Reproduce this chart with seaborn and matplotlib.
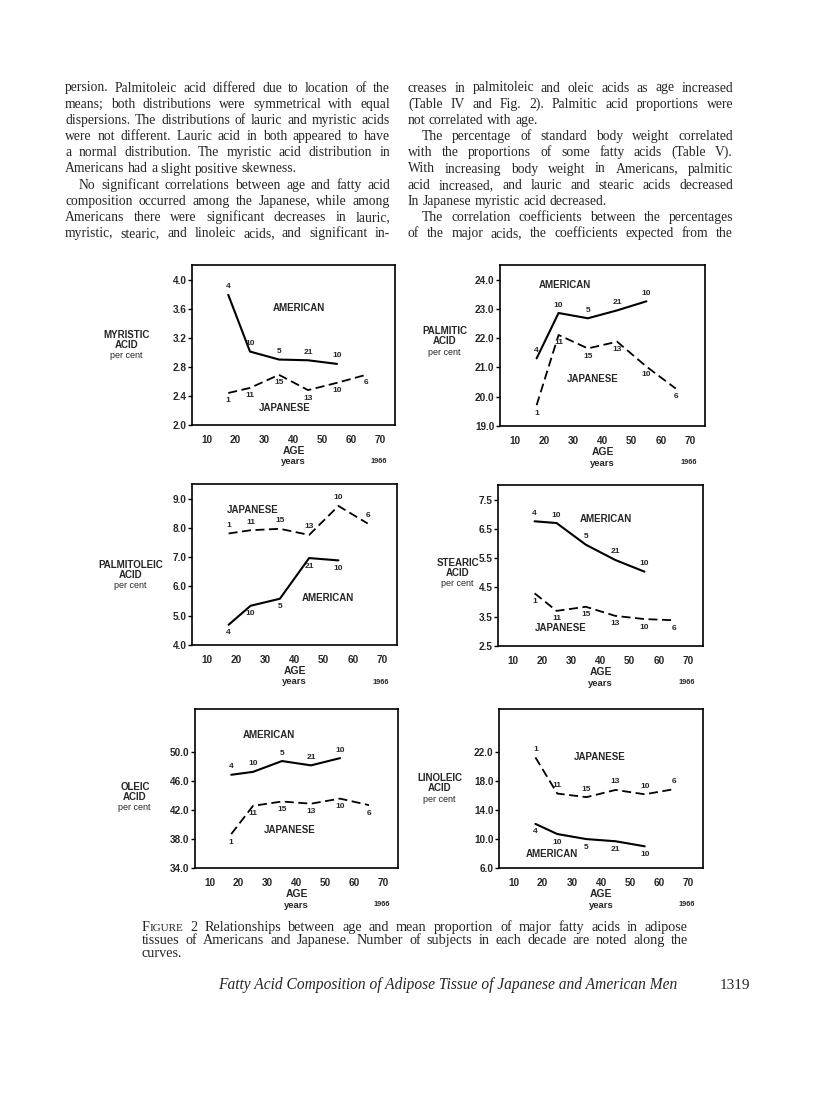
import numpy as np
import pandas as pd
import matplotlib
matplotlib.use("Agg")
import matplotlib.pyplot as plt
import seaborn as sns
from matplotlib.font_manager import FontProperties

sns.set_theme(style="white")
plt.rcParams["font.family"] = ["Liberation Sans", "DejaVu Sans"]

# ---------------- data ----------------
ages_am = [17.5, 25, 35, 45, 55]
ages_jp = [17.5, 25, 35, 45, 55, 65]
n_am = [4, 10, 5, 21, 10]
n_jp = [1, 11, 15, 13, 10, 6]
x_ticks = [10, 20, 30, 40, 50, 60, 70]

myristic_am = [3.79, 3.01, 2.90, 2.89, 2.84]
myristic_jp = [2.44, 2.51, 2.69, 2.48, 2.58, 2.69]
palmitic_am = [21.31, 22.86, 22.68, 22.95, 23.26]
palmitic_jp = [19.71, 22.11, 21.65, 21.88, 21.03, 20.28]
palmitoleic_am = [4.69, 5.34, 5.58, 6.97, 6.89]
palmitoleic_jp = [7.81, 7.92, 7.97, 7.76, 8.75, 8.15]
stearic_am = [6.76, 6.70, 5.96, 5.44, 5.04]
stearic_jp = [4.30, 3.70, 3.84, 3.53, 3.42, 3.38]
oleic_am = [46.9, 47.3, 48.8, 48.2, 49.2]
oleic_jp = [38.7, 42.6, 43.2, 42.9, 43.6, 42.7]
linoleic_am = [12.1, 10.7, 10.0, 9.7, 9.0]
linoleic_jp = [21.3, 16.3, 15.8, 16.8, 16.2, 16.9]

myristic_ticks = [2.0, 2.4, 2.8, 3.2, 3.6, 4.0]
palmitic_ticks = [19.0, 20.0, 21.0, 22.0, 23.0, 24.0]
palmitoleic_ticks = [4.0, 5.0, 6.0, 7.0, 8.0, 9.0]
stearic_ticks = [2.5, 3.5, 4.5, 5.5, 6.5, 7.5]
oleic_ticks = [34.0, 38.0, 42.0, 46.0, 50.0]
linoleic_ticks = [6.0, 10.0, 14.0, 18.0, 22.0]

left_col = [
    "persion. Palmitoleic acid differed due to location of the",
    "means; both distributions were symmetrical with equal",
    "dispersions. The distributions of lauric and myristic acids",
    "were not different. Lauric acid in both appeared to have",
    "a normal distribution. The myristic acid distribution in",
    "Americans had a slight positive skewness.",
    "No significant correlations between age and fatty acid",
    "composition occurred among the Japanese, while among",
    "Americans there were significant decreases in lauric,",
    "myristic, stearic, and linoleic acids, and significant in-",
]
right_col = [
    "creases in palmitoleic and oleic acids as age increased",
    "(Table IV and Fig. 2). Palmitic acid proportions were",
    "not correlated with age.",
    "The percentage of standard body weight correlated",
    "with the proportions of some fatty acids (Table V).",
    "With increasing body weight in Americans, palmitic",
    "acid increased, and lauric and stearic acids decreased",
    "In Japanese myristic acid decreased.",
    "The correlation coefficients between the percentages",
    "of the major acids, the coefficients expected from the",
]
caption = [
    "FIGURE 2  Relationships between age and mean proportion of major fatty acids in adipose",
    "tissues of Americans and Japanese. Number of subjects in each decade are noted along the",
    "curves.",
]
footer = "Fatty Acid Composition of Adipose Tissue of Japanese and American Men"
page_no = "1319"

# ---------------- figure ----------------
W, H = 816, 1100
fig = plt.figure(figsize=(8.16, 11.0), dpi=100)
fig.patch.set_facecolor("white")
renderer = fig.canvas.get_renderer()


def tw(s, fp):
    return renderer.get_text_width_height_descent(s, fp, ismath=False)[0]


def fx(x):
    return x / W


def fy(y):
    return 1 - y / H


def draw_block(lines, x0, x1, y0, dy, fp, justify, indents, indent=14, smallcaps=()):
    sc_fp = fp.copy()
    sc_fp.set_size(fp.get_size() * 0.78)
    space = tw("a a", fp) - tw("aa", fp)
    for i, s in enumerate(lines):
        y = y0 + i * dy
        xs = x0 + (indent if indents[i] else 0)
        words = s.split()
        ws = []
        for w in words:
            if w in smallcaps:
                ws.append(tw(w[0], fp) + tw(w[1:], sc_fp))
            else:
                ws.append(tw(w, fp))
        if justify[i] and len(words) > 1:
            gap = (x1 - xs - sum(ws)) / (len(words) - 1)
        else:
            gap = space
        x = xs
        for w, ww in zip(words, ws):
            if w in smallcaps:
                fig.text(fx(x), fy(y), w[0], fontproperties=fp, ha="left", va="baseline")
                fig.text(fx(x + tw(w[0], fp)), fy(y), w[1:], fontproperties=sc_fp,
                         ha="left", va="baseline")
            else:
                fig.text(fx(x), fy(y), w, fontproperties=fp, ha="left", va="baseline")
            x += ww + gap


# body text
body_fp = FontProperties(family="Liberation Serif", size=10)
col_w = 325
nat = max(tw(s, body_fp) for s in left_col + right_col)
body_fp.set_size(10 * col_w * 0.965 / nat)
just_l = [True, True, True, True, True, False, True, True, True, True]
ind_l = [False] * 6 + [True] + [False] * 3
just_r = [True, True, False, True, True, True, True, False, True, True]
ind_r = [False, False, False, True, False, False, False, False, True, False]
draw_block(left_col, 65, 390, 91.5, 16.2, body_fp, just_l, ind_l)
draw_block(right_col, 408, 733, 91.5, 16.2, body_fp, just_r, ind_r)

# caption
cap_fp = FontProperties(family="Liberation Serif", size=10)
cap_w = 546
natc = max(tw(s, cap_fp) for s in caption[:2])
cap_fp.set_size(10 * cap_w * 0.95 / natc)
draw_block(caption, 142, 688, 931, 13, cap_fp, [True, True, False], [False] * 3,
           smallcaps=("FIGURE",))

foot_fp = FontProperties(family="Liberation Serif", size=11.2, style="italic")
fig.text(fx(218), fy(989), footer, fontproperties=foot_fp, ha="left", va="baseline")
fig.text(fx(750), fy(989), page_no,
         fontproperties=FontProperties(family="Liberation Serif", size=11),
         ha="right", va="baseline")

# ---------------- panels ----------------
panels = [
    dict(rect=(192, 395, 265, 425), am=myristic_am, jp=myristic_jp, ylim=(2.0, 4.2),
         ticks=myristic_ticks, name="MYRISTIC", lab=(127, 340),
         am_lab=(42, 3.61), jp_lab=(37, 2.24), am_dir=1, jp_dir=-1),
    dict(rect=(500, 705, 265, 426), am=palmitic_am, jp=palmitic_jp, ylim=(19.0, 24.5),
         ticks=palmitic_ticks, name="PALMITIC", lab=(445, 336),
         am_lab=(27, 23.8), jp_lab=(36.6, 20.6), am_dir=1, jp_dir=-1),
    dict(rect=(192, 397, 484, 645), am=palmitoleic_am, jp=palmitoleic_jp, ylim=(4.0, 9.5),
         ticks=palmitoleic_ticks, name="PALMITOLEIC", lab=(131, 570),
         am_lab=(51.3, 5.6), jp_lab=(25.6, 8.6), am_dir=-1, jp_dir=1),
    dict(rect=(498, 703, 485, 646), am=stearic_am, jp=stearic_jp, ylim=(2.5, 8.0),
         ticks=stearic_ticks, name="STEARIC", lab=(458, 568),
         am_lab=(41.7, 6.85), jp_lab=(26.3, 3.1), am_dir=1, jp_dir=-1),
    dict(rect=(195, 398, 709, 868), am=oleic_am, jp=oleic_jp, ylim=(34.0, 56.0),
         ticks=oleic_ticks, name="OLEIC", lab=(135, 792),
         am_lab=(30.6, 52.4), jp_lab=(37.8, 39.3), am_dir=1, jp_dir=-1),
    dict(rect=(499, 703, 709, 868), am=linoleic_am, jp=linoleic_jp, ylim=(6.0, 28.0),
         ticks=linoleic_ticks, name="LINOLEIC", lab=(440, 783),
         am_lab=(23.3, 7.87), jp_lab=(39.7, 21.3), am_dir=-1, jp_dir=1),
]

tick_fp = FontProperties(family="Liberation Sans", size=7.2, weight="bold")

for p in panels:
    L, R, T, B = p["rect"]
    ax = fig.add_axes([fx(L), fy(B), (R - L) / W, (B - T) / H])
    ax.set_facecolor("white")
    df_am = pd.DataFrame({"age": ages_am, "val": p["am"]})
    df_jp = pd.DataFrame({"age": ages_jp, "val": p["jp"]})
    sns.lineplot(data=df_am, x="age", y="val", ax=ax, color="black", linewidth=1.5,
                 legend=False)
    sns.lineplot(data=df_jp, x="age", y="val", ax=ax, color="black", linewidth=1.3,
                 legend=False)
    ax.lines[-1].set_dashes([5, 2.5])
    ax.set_xlim(5, 75)
    ax.set_ylim(*p["ylim"])
    ax.set_xticks(x_ticks)
    ax.set_xticklabels([str(t) for t in x_ticks], fontproperties=tick_fp)
    ax.set_yticks(p["ticks"])
    ax.set_yticklabels([f"{t:.1f}" for t in p["ticks"]], fontproperties=tick_fp)
    ax.tick_params(axis="y", direction="out", length=3, width=1, pad=1, color="black",
                   left=True)
    ax.tick_params(axis="x", length=0, pad=7)
    ax.set_xlabel("")
    ax.set_ylabel("")
    for sp in ax.spines.values():
        sp.set_visible(True)
        sp.set_color("black")
        sp.set_linewidth(1.2)
    for x, y, n in zip(ages_am, p["am"], n_am):
        ax.annotate(str(n), (x, y), xytext=(0, 8 * p["am_dir"]), textcoords="offset pixels",
                    ha="center", va="center", fontsize=6, fontweight="bold")
    for x, y, n in zip(ages_jp, p["jp"], n_jp):
        ax.annotate(str(n), (x, y), xytext=(0, 8 * p["jp_dir"]), textcoords="offset pixels",
                    ha="center", va="center", fontsize=6, fontweight="bold")
    ax.text(*p["am_lab"], "AMERICAN", ha="center", va="center", fontsize=7,
            fontweight="bold")
    ax.text(*p["jp_lab"], "JAPANESE", ha="center", va="center", fontsize=7,
            fontweight="bold")

    # y-axis title
    lx, ly = p["lab"]
    fig.text(fx(lx), fy(ly), p["name"] + "\nACID", ha="center", va="center",
             fontsize=7, fontweight="bold", linespacing=1.05)
    fig.text(fx(lx - 1), fy(ly + 16), "per cent", ha="center", va="center", fontsize=6.5)

    # x-axis title
    cx = (L + R) / 2
    fig.text(fx(cx), fy(B + 26), "AGE", ha="center", va="center", fontsize=7.5,
             fontweight="bold")
    fig.text(fx(cx), fy(B + 37), "years", ha="center", va="center", fontsize=6.8,
             fontweight="bold")
    fig.text(fx(R - 16), fy(B + 37), "1966", ha="center", va="center", fontsize=5.3,
             fontweight="bold")

fig.savefig("out.png", dpi=100, facecolor="white")
